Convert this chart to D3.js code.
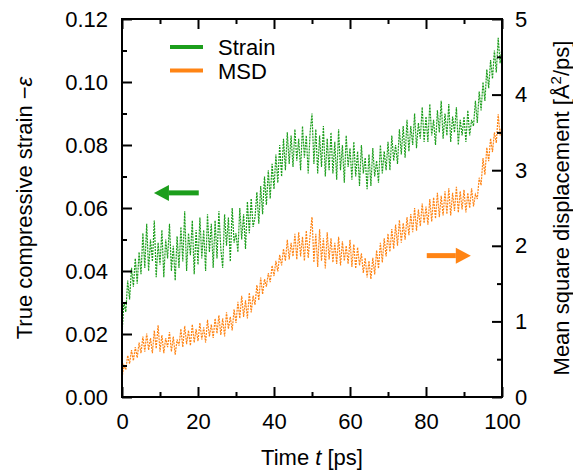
<!DOCTYPE html>
<html>
<head>
<meta charset="utf-8">
<script src="https://cdn.jsdelivr.net/npm/d3@7"></script>
<style>
  body { margin: 0; background: #fff; }
  svg text { font-family: "Liberation Sans", Arial, sans-serif; fill: #000; }
</style>
</head>
<body>
<svg width="573" height="475"></svg>
<script>
// time axis: one sample every 0.5 ps from 0 to 100
var tStep = 0.5;

// true compressive strain (left axis)
var strain = [
  0.020, 0.030, 0.027, 0.037, 0.031, 0.041, 0.035, 0.044, 0.036, 0.046,
  0.039, 0.052, 0.041, 0.055, 0.040, 0.050, 0.043, 0.056, 0.038, 0.049,
  0.042, 0.053, 0.038, 0.050, 0.044, 0.055, 0.040, 0.048, 0.037, 0.051,
  0.041, 0.054, 0.043, 0.059, 0.040, 0.052, 0.045, 0.056, 0.039, 0.053,
  0.042, 0.057, 0.044, 0.053, 0.040, 0.058, 0.046, 0.055, 0.041, 0.056,
  0.044, 0.059, 0.047, 0.041, 0.058, 0.048, 0.057, 0.043, 0.060, 0.049,
  0.052, 0.046, 0.060, 0.050, 0.058, 0.047, 0.062, 0.052, 0.063, 0.054,
  0.057, 0.065, 0.055, 0.067, 0.058, 0.070, 0.061, 0.072, 0.063, 0.074,
  0.066, 0.077, 0.068, 0.080, 0.070, 0.082, 0.072, 0.084, 0.074, 0.083,
  0.073, 0.085, 0.075, 0.082, 0.072, 0.086, 0.076, 0.083, 0.071, 0.084,
  0.090, 0.074, 0.085, 0.071, 0.083, 0.073, 0.086, 0.070, 0.082, 0.072,
  0.084, 0.071, 0.081, 0.069, 0.085, 0.072, 0.080, 0.068, 0.083, 0.073,
  0.079, 0.069, 0.081, 0.070, 0.078, 0.067, 0.080, 0.071, 0.076, 0.066,
  0.077, 0.067, 0.079, 0.070, 0.075, 0.068, 0.080, 0.071, 0.078, 0.072,
  0.081, 0.072, 0.083, 0.075, 0.080, 0.074, 0.085, 0.077, 0.086, 0.076,
  0.088, 0.078, 0.086, 0.080, 0.090, 0.079, 0.087, 0.082, 0.092, 0.081,
  0.089, 0.081, 0.093, 0.083, 0.088, 0.080, 0.091, 0.084, 0.094, 0.082,
  0.090, 0.083, 0.093, 0.081, 0.089, 0.084, 0.092, 0.080, 0.088, 0.083,
  0.089, 0.081, 0.091, 0.083, 0.088, 0.086, 0.094, 0.087, 0.097, 0.091,
  0.100, 0.094, 0.104, 0.098, 0.107, 0.101, 0.110, 0.103, 0.114, 0.106,
  0.111
];

// mean square displacement (right axis)
var msd = [
  0.25, 0.42, 0.36, 0.55, 0.44, 0.62, 0.48, 0.66, 0.52, 0.72,
  0.58, 0.80, 0.60, 0.84, 0.62, 0.78, 0.58, 0.88, 0.64, 0.95,
  0.60, 0.82, 0.58, 0.78, 0.66, 0.86, 0.60, 0.80, 0.56, 0.76,
  0.68, 0.90, 0.66, 0.94, 0.70, 0.88, 0.68, 0.96, 0.72, 0.90,
  0.74, 0.98, 0.76, 0.92, 0.72, 1.02, 0.80, 0.96, 0.78, 1.04,
  0.84, 1.08, 0.82, 1.04, 0.80, 1.12, 0.90, 1.06, 0.88, 1.16,
  0.98, 1.26, 1.04, 1.34, 1.06, 1.28, 1.04, 1.38, 1.12, 1.34,
  1.22, 1.48, 1.28, 1.58, 1.36, 1.56, 1.46, 1.64, 1.52, 1.74,
  1.60, 1.80, 1.66, 1.88, 1.74, 1.96, 1.80, 2.08, 1.82, 2.04,
  1.86, 2.16, 1.82, 2.18, 1.86, 2.12, 1.80, 2.20, 1.84, 2.14,
  2.38, 1.78, 2.16, 1.72, 2.22, 1.80, 2.10, 1.70, 2.18, 1.82,
  2.10, 1.78, 2.04, 1.76, 2.12, 1.74, 2.06, 1.80, 2.00, 1.76,
  2.08, 1.72, 2.02, 1.70, 1.98, 1.74, 1.90, 1.64, 1.84, 1.58,
  1.80, 1.56, 1.84, 1.62, 1.94, 1.70, 2.04, 1.78, 2.10, 1.86,
  2.16, 1.92, 2.22, 1.96, 2.28, 2.00, 2.34, 2.04, 2.30, 2.08,
  2.38, 2.14, 2.42, 2.18, 2.50, 2.20, 2.48, 2.26, 2.56, 2.30,
  2.52, 2.28, 2.62, 2.32, 2.64, 2.36, 2.70, 2.38, 2.66, 2.40,
  2.72, 2.42, 2.76, 2.40, 2.70, 2.46, 2.78, 2.44, 2.72, 2.48,
  2.74, 2.44, 2.70, 2.50, 2.76, 2.52, 2.68, 2.62, 2.90, 2.80,
  3.16, 2.94, 3.30, 3.12, 3.42, 3.24, 3.50, 3.36, 3.74, 3.46,
  3.60
];

var xMajor = [0, 20, 40, 60, 80, 100],
  xMinor = [10, 30, 50, 70, 90],
  leftMajor = [0, 0.02, 0.04, 0.06, 0.08, 0.10, 0.12],
  leftMinor = [0.01, 0.03, 0.05, 0.07, 0.09, 0.11],
  rightMajor = [0, 1, 2, 3, 4, 5],
  rightMinor = [0.5, 1.5, 2.5, 3.5, 4.5];

var green = "#1c9e1c",
  orange = "#ff8414";

var svg = d3.select("svg"),
  margin = {top: 19, right: 71, bottom: 78, left: 122},
  width = +svg.attr("width") - margin.left - margin.right,
  height = +svg.attr("height") - margin.top - margin.bottom;

var x = d3.scaleLinear().domain([0, 100]).range([0, width]);
var yL = d3.scaleLinear().domain([0, 0.12]).range([height, 0]);
var yR = d3.scaleLinear().domain([0, 5]).range([height, 0]);

var g = svg.append("g")
  .attr("transform", "translate(" + margin.left + "," + margin.top + ")");

// data lines
function lineFor(scale) {
  return d3.line()
    .x(function(d, i) { return x(i * tStep); })
    .y(function(d) { return scale(d); });
}

g.append("path")
  .datum(msd)
  .attr("fill", "none")
  .attr("stroke", orange)
  .attr("stroke-width", 1.2)
  .attr("stroke-dasharray", "2,1")
  .attr("d", lineFor(yR));

g.append("path")
  .datum(strain)
  .attr("fill", "none")
  .attr("stroke", green)
  .attr("stroke-width", 1.2)
  .attr("stroke-dasharray", "2,1")
  .attr("d", lineFor(yL));

// axes, ticks point inward
function styleAxis(sel) {
  sel.select(".domain").remove();
  sel.selectAll(".tick line").attr("stroke", "#000").attr("stroke-width", 2);
  sel.selectAll("text").style("font-size", "22px").style("font-family", "Liberation Sans, Arial, sans-serif");
}

g.append("g")
  .attr("transform", "translate(0," + height + ")")
  .call(d3.axisBottom(x).tickValues(xMajor).tickSize(-10).tickPadding(16))
  .call(styleAxis);
g.append("g")
  .attr("transform", "translate(0," + height + ")")
  .call(d3.axisBottom(x).tickValues(xMinor).tickSize(-5).tickFormat(""))
  .call(styleAxis);
g.append("g")
  .call(d3.axisTop(x).tickValues(xMajor).tickSize(-10).tickFormat(""))
  .call(styleAxis);
g.append("g")
  .call(d3.axisTop(x).tickValues(xMinor).tickSize(-5).tickFormat(""))
  .call(styleAxis);

g.append("g")
  .call(d3.axisLeft(yL).tickValues(leftMajor).tickSize(-10).tickPadding(14).tickFormat(d3.format(".2f")))
  .call(styleAxis);
g.append("g")
  .call(d3.axisLeft(yL).tickValues(leftMinor).tickSize(-5).tickFormat(""))
  .call(styleAxis);

g.append("g")
  .attr("transform", "translate(" + width + ",0)")
  .call(d3.axisRight(yR).tickValues(rightMajor).tickSize(-10).tickPadding(13).tickFormat(d3.format("d")))
  .call(styleAxis);
g.append("g")
  .attr("transform", "translate(" + width + ",0)")
  .call(d3.axisRight(yR).tickValues(rightMinor).tickSize(-5).tickFormat(""))
  .call(styleAxis);

// frame
g.append("rect")
  .attr("width", width)
  .attr("height", height)
  .attr("fill", "none")
  .attr("stroke", "#000")
  .attr("stroke-width", 2);

// axis titles
var xTitle = svg.append("text")
  .attr("x", margin.left + width / 2)
  .attr("y", 465)
  .attr("text-anchor", "middle")
  .style("font-size", "22px");
xTitle.append("tspan").text("Time ");
xTitle.append("tspan").style("font-style", "italic").text("t");
xTitle.append("tspan").text(" [ps]");

var yTitleL = svg.append("text")
  .attr("transform", "translate(32," + (margin.top + height / 2) + ") rotate(-90)")
  .attr("text-anchor", "middle")
  .style("font-size", "22px");
yTitleL.append("tspan").text("True compressive strain \u2212");
yTitleL.append("tspan").style("font-style", "italic").text("\u03b5");

var yTitleR = svg.append("text")
  .attr("transform", "translate(569," + (margin.top + height / 2) + ") rotate(-90)")
  .attr("text-anchor", "middle")
  .style("font-size", "22px");
yTitleR.append("tspan").text("Mean square displacement [\u00c5");
yTitleR.append("tspan").attr("baseline-shift", "super").style("font-size", "15px").text("2");
yTitleR.append("tspan").text("/ps]");

// legend
var legend = [
  {name: "Strain", color: green},
  {name: "MSD", color: orange}
];
legend.forEach(function(d, i) {
  var ly = 47 + i * 23.5;
  svg.append("line")
    .attr("x1", 170).attr("x2", 203)
    .attr("y1", ly).attr("y2", ly)
    .attr("stroke", d.color)
    .attr("stroke-width", 4);
  svg.append("text")
    .attr("x", 218)
    .attr("y", ly + 8)
    .style("font-size", "22px")
    .text(d.name);
});

// arrows telling which axis each curve uses
function arrow(x0, x1, yy, color) {
  var dir = x1 > x0 ? 1 : -1;
  var head = 15;
  g.append("line")
    .attr("x1", x0).attr("x2", x1 - dir * head)
    .attr("y1", yy).attr("y2", yy)
    .attr("stroke", color)
    .attr("stroke-width", 5);
  g.append("path")
    .attr("d", "M" + x1 + "," + yy +
      "L" + (x1 - dir * head) + "," + (yy - 8) +
      "L" + (x1 - dir * head) + "," + (yy + 8) + "Z")
    .attr("fill", color);
}
arrow(x(20.2), x(8.4), yL(0.0648), green);
arrow(x(80.2), x(91.8), yR(1.87), orange);
</script>
</body>
</html>
